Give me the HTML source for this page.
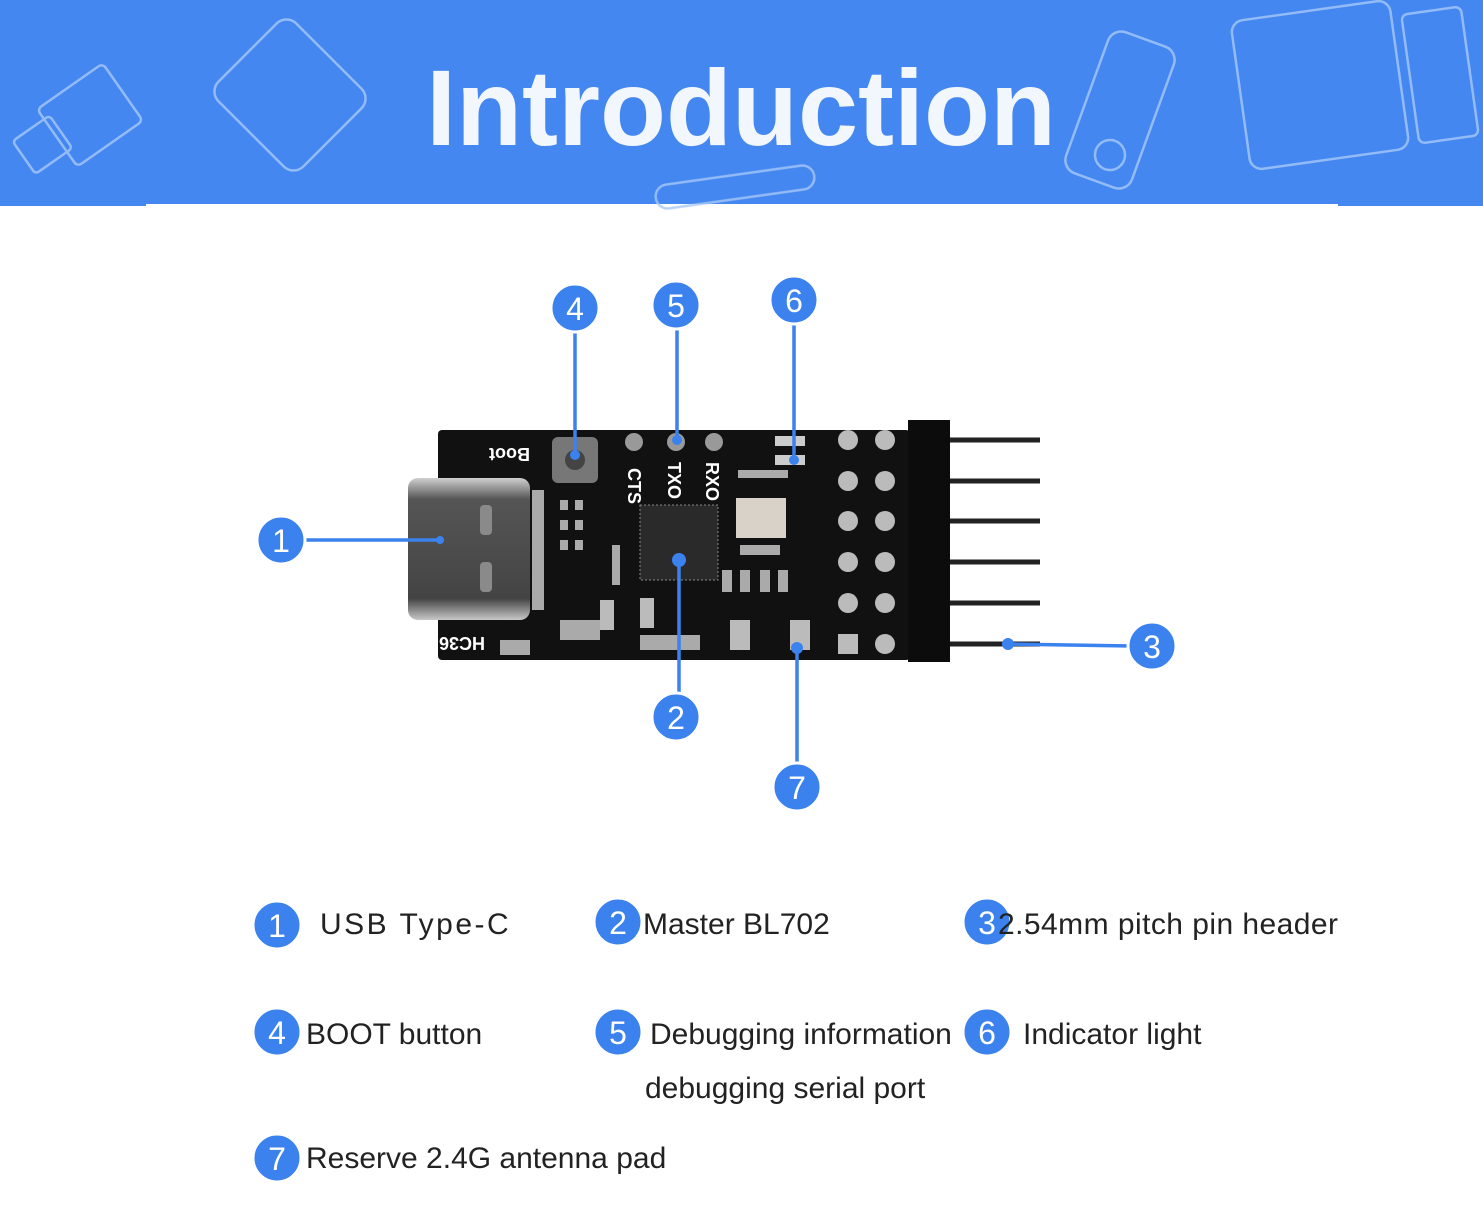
<!DOCTYPE html>
<html><head><meta charset="utf-8"><style>
body{margin:0;width:1483px;height:1220px;background:#fff;overflow:hidden;font-family:"Liberation Sans",sans-serif}
svg{display:block}
</style></head><body>
<svg width="1483" height="1220" xmlns="http://www.w3.org/2000/svg">
<defs><linearGradient id="usb" x1="0" y1="0" x2="0" y2="1"><stop offset="0" stop-color="#d0d0d0"/><stop offset="0.15" stop-color="#555"/><stop offset="0.85" stop-color="#444"/><stop offset="1" stop-color="#c8c8c8"/></linearGradient></defs>
<rect x="0" y="0" width="1483" height="206" fill="#4487f0"/>
<rect x="146" y="204" width="1192" height="4" fill="#fff"/>
<g fill="none" stroke="#a8c8f8" stroke-width="2.5" opacity="0.8">
<rect x="50" y="80" width="80" height="70" rx="5" transform="rotate(-35 90 115)"/>
<rect x="20" y="125" width="45" height="40" rx="4" transform="rotate(-35 42 145)"/>
<rect x="230" y="40" width="120" height="110" rx="14" transform="rotate(45 290 95)"/>
<rect x="1085" y="35" width="70" height="150" rx="14" transform="rotate(20 1120 110)"/>
<circle cx="1110" cy="155" r="15"/>
<rect x="1240" y="10" width="160" height="150" rx="12" transform="rotate(-8 1320 85)"/>
<rect x="1410" y="10" width="60" height="130" rx="6" transform="rotate(-8 1440 75)"/>
<rect x="655" y="175" width="160" height="24" rx="12" transform="rotate(-8 735 187)"/>
</g>
<text x="741" y="145" text-anchor="middle" font-family="Liberation Sans" font-weight="bold" font-size="108" fill="#f2f6fd">Introduction</text>

<g stroke="#222" stroke-width="5">
<line x1="850" y1="440" x2="1040" y2="440"/><line x1="850" y1="481" x2="1040" y2="481"/>
<line x1="850" y1="521" x2="1040" y2="521"/><line x1="850" y1="562" x2="1040" y2="562"/>
<line x1="850" y1="603" x2="1040" y2="603"/><line x1="850" y1="644" x2="1040" y2="644"/>
</g>
<rect x="438" y="430" width="472" height="230" rx="4" fill="#111"/>
<rect x="908" y="420" width="42" height="242" fill="#0c0c0c"/>
<rect x="408" y="478" width="122" height="142" rx="10" fill="url(#usb)"/>
<g fill="#8a8a8a"><rect x="480" y="505" width="12" height="30" rx="4"/><rect x="480" y="562" width="12" height="30" rx="4"/></g>
<g fill="#aaa"><rect x="532" y="490" width="12" height="120"/><rect x="560" y="500" width="8" height="10"/><rect x="575" y="500" width="8" height="10"/><rect x="560" y="520" width="8" height="10"/><rect x="575" y="520" width="8" height="10"/><rect x="560" y="540" width="8" height="10"/><rect x="575" y="540" width="8" height="10"/><rect x="612" y="545" width="8" height="40"/><rect x="722" y="570" width="10" height="22"/><rect x="740" y="570" width="10" height="22"/><rect x="760" y="570" width="10" height="22"/><rect x="778" y="570" width="10" height="22"/><rect x="738" y="470" width="50" height="8"/><rect x="740" y="545" width="40" height="10"/><rect x="560" y="620" width="40" height="20"/><rect x="640" y="635" width="60" height="15"/><rect x="500" y="640" width="30" height="15"/></g>
<rect x="640" y="505" width="78" height="75" fill="#2a2a2a" stroke="#888" stroke-dasharray="2 2"/>
<rect x="736" y="498" width="50" height="40" fill="#d8d2c8"/>
<rect x="552" y="437" width="46" height="46" rx="6" fill="#777"/><circle cx="575" cy="460" r="10" fill="#444"/>
<g fill="#999"><circle cx="634" cy="442" r="9"/><circle cx="676" cy="442" r="9"/><circle cx="714" cy="442" r="9"/></g>
<g fill="#ccc"><rect x="775" y="436" width="30" height="10"/><rect x="775" y="455" width="30" height="10"/></g>
<g fill="#bbb"><circle cx="848" cy="440" r="10"/><circle cx="848" cy="481" r="10"/><circle cx="848" cy="521" r="10"/><circle cx="848" cy="562" r="10"/><circle cx="848" cy="603" r="10"/><rect x="838" y="634" width="20" height="20"/>
<circle cx="885" cy="440" r="10"/><circle cx="885" cy="481" r="10"/><circle cx="885" cy="521" r="10"/><circle cx="885" cy="562" r="10"/><circle cx="885" cy="603" r="10"/><circle cx="885" cy="644" r="10"/>
<rect x="730" y="620" width="20" height="30"/><rect x="790" y="620" width="20" height="30"/>
<rect x="600" y="600" width="14" height="30"/><rect x="640" y="598" width="14" height="30"/></g>
<g fill="#fff" font-weight="bold" font-size="18">
<text transform="translate(628,468) rotate(90)">CTS</text>
<text transform="translate(668,462) rotate(90)">TXO</text>
<text transform="translate(706,462) rotate(90)">RXO</text>
<text transform="translate(530,448) rotate(180)">Boot</text>
<text transform="translate(485,637) rotate(180)">HC3610</text>
</g>

<g stroke="#3b82ee" stroke-width="3.5">
<line x1="575" y1="330" x2="575" y2="455"/><line x1="677" y1="328" x2="677" y2="440"/>
<line x1="794" y1="322" x2="794" y2="460"/><line x1="300" y1="540" x2="440" y2="540"/>
<line x1="1008" y1="644" x2="1132" y2="646"/><line x1="679" y1="560" x2="679" y2="697"/>
<line x1="797" y1="648" x2="797" y2="766"/>
</g>
<g fill="#3b82ee"><circle cx="440" cy="540" r="4"/><circle cx="1008" cy="644" r="6"/><circle cx="679" cy="560" r="7"/><circle cx="797" cy="648" r="6"/><circle cx="794" cy="460" r="5"/><circle cx="677" cy="440" r="5"/><circle cx="575" cy="455" r="5"/></g>
<g fill="#3b82ee" stroke="#fff" stroke-width="3">
<circle cx="575" cy="308" r="24"/><circle cx="676" cy="305" r="24"/><circle cx="794" cy="300" r="24"/>
<circle cx="281" cy="540" r="24"/><circle cx="1152" cy="646" r="24"/><circle cx="676" cy="717" r="24"/><circle cx="797" cy="787" r="24"/>
<circle cx="277" cy="925" r="24"/><circle cx="618" cy="922" r="24"/><circle cx="987" cy="922" r="24"/>
<circle cx="277" cy="1032" r="24"/><circle cx="618" cy="1032" r="24"/><circle cx="987" cy="1032" r="24"/><circle cx="277" cy="1158" r="24"/>
</g>
<g fill="#fff" font-size="32" text-anchor="middle">
<text x="575" y="320">4</text><text x="676" y="317">5</text><text x="794" y="312">6</text>
<text x="281" y="552">1</text><text x="1152" y="658">3</text><text x="676" y="729">2</text><text x="797" y="799">7</text>
<text x="277" y="937">1</text><text x="618" y="934">2</text><text x="987" y="934">3</text>
<text x="277" y="1044">4</text><text x="618" y="1044">5</text><text x="987" y="1044">6</text><text x="277" y="1170">7</text>
</g>
<g fill="#222" font-size="30">
<text x="320" y="934" letter-spacing="2.5">USB Type-C</text>
<text x="643" y="934">Master BL702</text>
<text x="998" y="934" textLength="340">2.54mm pitch pin header</text>
<text x="306" y="1044">BOOT button</text>
<text x="650" y="1044">Debugging information</text>
<text x="645" y="1098">debugging serial port</text>
<text x="1023" y="1044">Indicator light</text>
<text x="306" y="1168">Reserve 2.4G antenna pad</text>
</g>
</svg>
</body></html>
